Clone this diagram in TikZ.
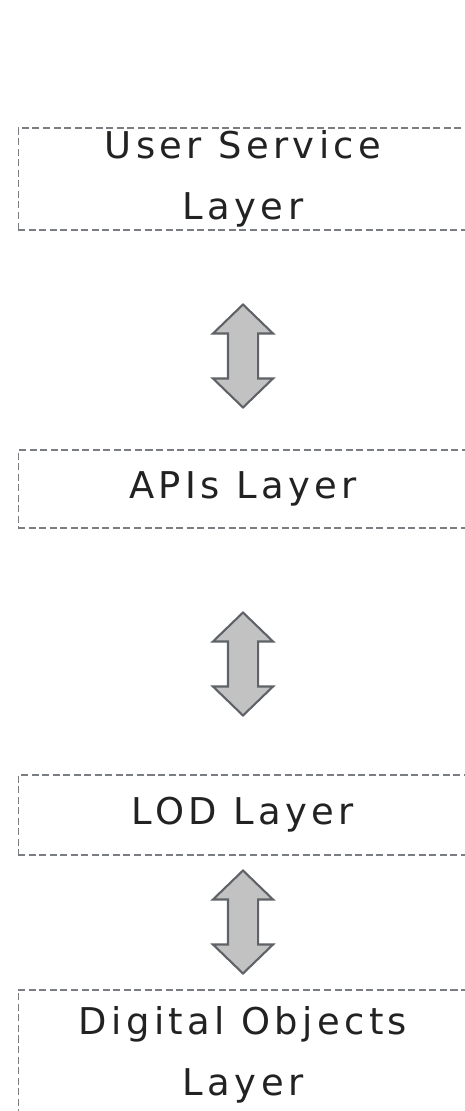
\documentclass[tikz,border=0pt]{standalone}
\usepackage{fontspec}
\setmainfont{DejaVu Sans}[LetterSpace=12]
\usetikzlibrary{shapes.arrows}
\definecolor{dashgray}{HTML}{7A7D82}
\definecolor{arrowfill}{HTML}{C2C2C2}
\definecolor{arrowline}{HTML}{5F6368}
\definecolor{inkblack}{HTML}{222222}
\tikzset{
  layer/.style={draw=dashgray,dashed,dash pattern=on 4pt off 2pt,line width=0.6pt,
    minimum width=9cm,inner ysep=0pt,align=center,text=inkblack,
    font=\fontsize{21}{35}\selectfont},
  updown/.style={double arrow,rotate=90,draw=arrowline,fill=arrowfill,line width=1.2pt,
    minimum height=2.06cm,inner xsep=0pt,inner ysep=0.28cm,
    double arrow head extend=0.3cm,double arrow tip angle=92}
}
\begin{document}
\begin{tikzpicture}[x=0.02cm,y=-0.02cm]
\useasboundingbox[fill=white] (0,0) rectangle (465,1111);
\clip (0,0) rectangle (465,1111);
% the four layers
\node[layer,minimum height=2.04cm] (user) at (243,179) {User Service\\Layer};
\node[layer,minimum height=1.56cm] (apis) at (243,489) {APIs Layer};
\node[layer,minimum height=1.6cm] (lod) at (243,815) {LOD Layer};
\node[layer,minimum height=2.6cm] (digital) at (243,1055) {Digital Objects\\Layer};
% two-way links between them
\node[updown] (userapis) at (243,356) {};
\node[updown] (apislod) at (243,664) {};
\node[updown] (loddigital) at (243,922) {};
\end{tikzpicture}
\end{document}
